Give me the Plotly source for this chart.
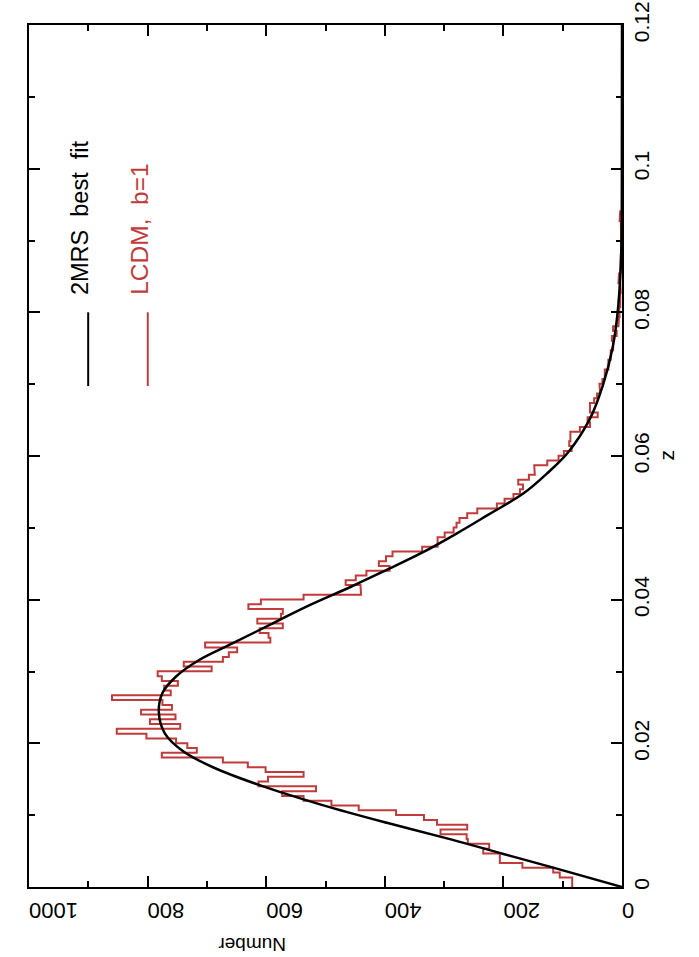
import plotly.graph_objects as go

# redshift bins of 200 km/s
bin_kms = 200.0
c_kms = 299792.458

# LCDM, b=1 mock counts per bin
lcdm_counts = [
    84, 84, 105, 116, 168, 206, 206, 234, 224, 260,
    262, 306, 261, 312, 334, 381, 444, 490, 537, 573,
    516, 613, 597, 537, 601, 631, 673, 776, 717, 733,
    752, 802, 852, 745, 796, 753, 811, 759, 775, 860,
    761, 772, 749, 776, 783, 692, 739, 673, 663, 649,
    703, 593, 596, 611, 572, 615, 575, 572, 630, 609,
    537, 440, 441, 466, 449, 431, 392, 410, 398, 387,
    337, 311, 311, 299, 284, 279, 274, 261, 244, 211,
    198, 183, 172, 167, 175, 157, 147, 148, 126, 107,
    98, 85, 89, 87, 87, 71, 54, 58, 41, 54,
    54, 47, 42, 37, 38, 33, 29, 29, 23, 23,
    19, 19, 15, 15, 17, 9, 15, 6, 5, 4,
    5, 3, 4, 3, 2, 3, 6, 5, 3, 2,
    2, 2, 1, 2, 1, 1, 1, 1, 2, 4,
    3,
]

# 2MRS best fit curve
fit_z = [0.0, 0.0027, 0.0046, 0.0066, 0.0089, 0.0114, 0.0140, 0.0166,
         0.0189, 0.0214, 0.0242, 0.0270, 0.0293, 0.0316, 0.0339, 0.0367,
         0.0393, 0.0418, 0.0439, 0.0465, 0.0492, 0.0518, 0.0548, 0.0576,
         0.0606, 0.0652, 0.0699, 0.0750, 0.0795, 0.0864, 0.095, 0.12]
fit_n = [0, 116, 200, 287, 395, 505, 605, 688,
         740, 771, 781, 775, 752, 713, 657, 589,
         525, 457, 403, 338, 279, 226, 166, 126,
         90, 54, 32, 16, 8, 2, 0.3, 0]

dz = bin_kms / c_kms
hist_n, hist_z = [], []
for i, n in enumerate(lcdm_counts):
    hist_n += [n, n]
    hist_z += [i * dz, (i + 1) * dz]
hist_n.append(0)
hist_z.append(len(lcdm_counts) * dz)

red = "#c23b3b"
font = "Liberation Sans, Arial, sans-serif"

fig = go.Figure(
    data=[
        go.Scatter(
            x=hist_n, y=hist_z, mode="lines",
            line=dict(color=red, width=2),
            showlegend=False
        ),
        go.Scatter(
            x=fit_n, y=fit_z, mode="lines",
            line=dict(color="black", width=2.5, shape="spline", smoothing=1.0),
            showlegend=False
        ),
    ]
)

axis_style = dict(
    showline=True, linecolor="black", linewidth=2,
    mirror="allticks", ticks="inside", ticklen=11, tickwidth=2,
    tickcolor="black", showgrid=False, zeroline=False, automargin=False,
    ticklabeloverflow="allow",
)

fig.update_xaxes(
    range=[1000, 0], tick0=0, dtick=200, tickangle=180, ticklabelstandoff=10,
    tickfont=dict(family=font, size=22, color="black"),
    minor=dict(dtick=100, ticks="inside", ticklen=6, tickwidth=2, tickcolor="black"),
    **axis_style
)
fig.update_yaxes(
    range=[0, 0.12], tick0=0, dtick=0.02, tickangle=-90, side="right",
    tickfont=dict(family=font, size=21, color="black"),
    minor=dict(dtick=0.01, ticks="inside", ticklen=6, tickwidth=2, tickcolor="black"),
    **axis_style
)

fig.add_annotation(
    text="Number", xref="x", yref="paper", x=624, y=-0.082,
    textangle=180, showarrow=False,
    font=dict(family=font, size=19, color="black")
)
fig.add_annotation(
    text="z", xref="paper", yref="paper", x=1.075, y=0.501,
    xanchor="center", textangle=-90, showarrow=False,
    font=dict(family=font, size=21, color="black")
)

# legend drawn by hand, rotated like the rest of the page
fig.add_annotation(
    text="2MRS  best  fit", xref="paper", yref="paper", x=0.087, y=0.6845,
    xanchor="center", yanchor="bottom", textangle=-90, showarrow=False,
    font=dict(family=font, size=23.5, color="black")
)
fig.add_annotation(
    text="LCDM,  b=1", xref="paper", yref="paper", x=0.186, y=0.6845,
    xanchor="center", yanchor="bottom", textangle=-90, showarrow=False,
    font=dict(family=font, size=24.5, color=red)
)
fig.add_shape(type="line", xref="paper", yref="paper",
              x0=0.0998, x1=0.0998, y0=0.5812, y1=0.6667,
              line=dict(color="black", width=2))
fig.add_shape(type="line", xref="paper", yref="paper",
              x0=0.2003, x1=0.2003, y0=0.5812, y1=0.6667,
              line=dict(color=red, width=2))

fig.update_layout(
    width=699, height=957,
    margin=dict(l=29, r=77, t=25, b=70),
    plot_bgcolor="white", paper_bgcolor="white",
    font=dict(family=font),
)

# drop the default page margin so the figure sits at the window corner
fig.write_html(
    "out.html",
    config={"displayModeBar": False},
    post_script="document.body.style.margin = '0';"
)
